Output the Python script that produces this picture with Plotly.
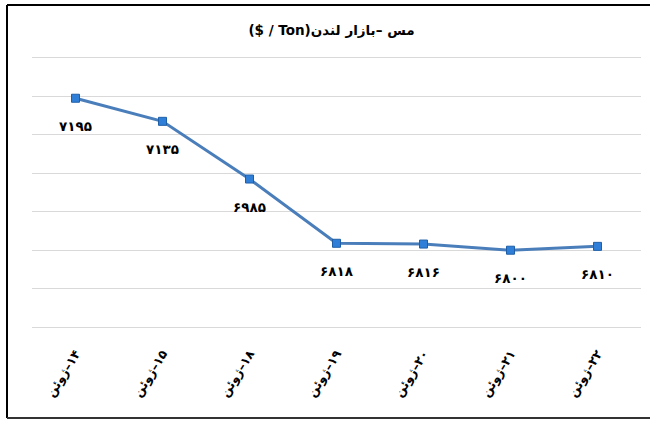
import plotly.graph_objects as go

days = [14, 15, 18, 19, 20, 21, 22]
month = "ژوئن"
prices = [7195, 7135, 6985, 6818, 6816, 6800, 6810]
title_unit = "($ / Ton)"
title_name = "مس –بازار لندن"

FA = str.maketrans("0123456789", "۰۱۲۳۴۵۶۷۸۹")
LRM = "\u200e"


def fa(n):
    return str(n).translate(FA)


categories = [f"{month}{LRM}–{fa(d)}" for d in days]
labels = [fa(p) for p in prices]

FONT = "DejaVu Sans"
W, H = 650, 422

fig = go.Figure()
fig.add_trace(go.Scatter(
    x=categories,
    y=prices,
    mode="lines+markers",
    line=dict(color="#4A7EBB", width=3),
    marker=dict(symbol="square", size=8, color="#2F7FD8",
                line=dict(color="#1F5FA8", width=1)),
    hoverinfo="skip",
    showlegend=False,
))

for c, p, t in zip(categories, prices, labels):
    fig.add_annotation(
        x=c, y=p, text=f"<b>{t}</b>", showarrow=False,
        yshift=-28, font=dict(family=FONT, size=13.5, color="#000000"),
    )

# frame lines (left, top, bottom) in pixel-based paper fractions
ml, mr, mt, mb = 32, 9, 54, 91
pw, ph = W - ml - mr, H - mt - mb


def px_x(x):
    return (x - ml) / pw


def px_y(y):
    return (H - mb - y) / ph


frame = dict(color="#000000", width=2)
shapes = [
    dict(type="line", xref="paper", yref="paper", x0=px_x(7), x1=px_x(7),
         y0=px_y(5), y1=px_y(418), line=frame),
    dict(type="line", xref="paper", yref="paper", x0=px_x(7), x1=px_x(652),
         y0=px_y(5), y1=px_y(5), line=frame),
    dict(type="line", xref="paper", yref="paper", x0=px_x(7), x1=px_x(652),
         y0=px_y(418), y1=px_y(418), line=dict(color="#333333", width=2)),
]

fig.update_layout(
    width=W, height=H,
    margin=dict(l=ml, r=mr, t=mt, b=mb),
    paper_bgcolor="white",
    plot_bgcolor="white",
    title=dict(text=f"<b>{title_unit}{title_name}</b>", x=0.51, xanchor="center",
               y=1 - 30 / H, yanchor="middle", yref="container",
               font=dict(family=FONT, size=13.5, color="#000000")),
    xaxis=dict(
        type="category",
        range=[-0.5, 6.5],
        showgrid=False,
        showline=False,
        zeroline=False,
        ticks="",
        tickangle=-58,
        ticklabelstandoff=12,
        automargin=False,
        tickfont=dict(family=FONT, size=12.5, color="#000000"),
        tickprefix="<b>", ticksuffix="</b>",
    ),
    yaxis=dict(
        range=[6590, 7310],
        tick0=6600,
        dtick=100,
        showgrid=True,
        gridcolor="#D9D9D9",
        gridwidth=1,
        showticklabels=False,
        zeroline=False,
        showline=False,
        ticks="",
        automargin=False,
    ),
    shapes=shapes,
)

fig.write_html("out.html", config={"displayModeBar": False},
               post_script="document.body.style.margin='0';")
